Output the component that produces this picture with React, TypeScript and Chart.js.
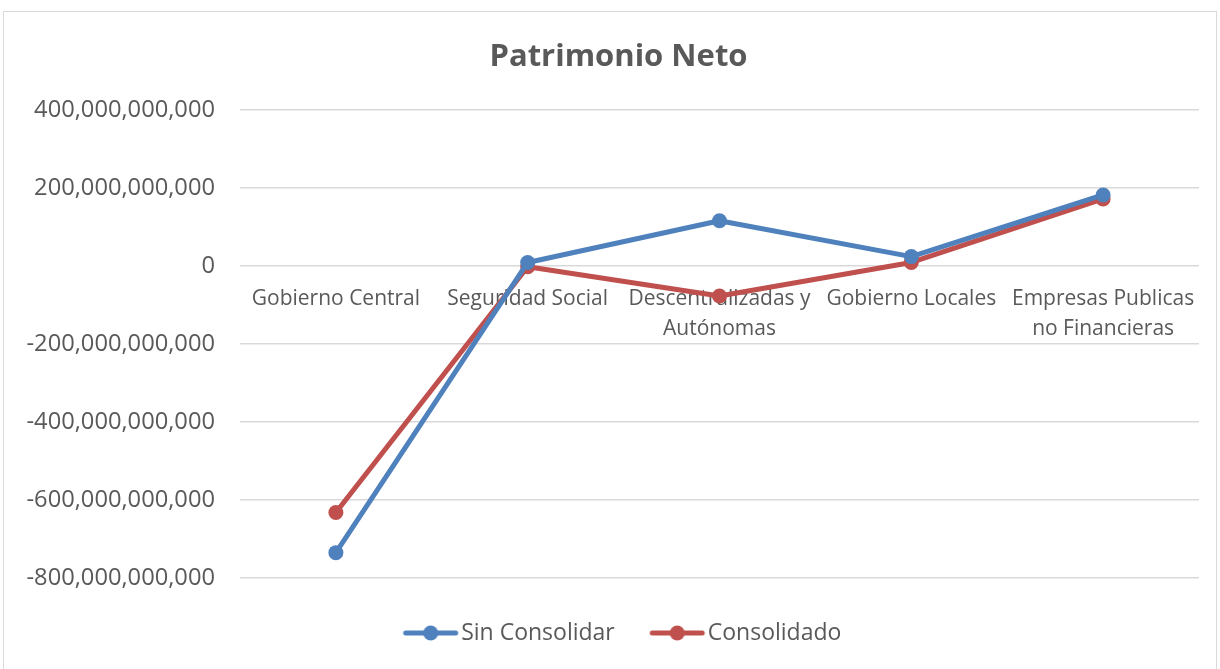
import React, { useEffect, useRef } from 'react';
import { Chart, registerables } from 'chart.js';

Chart.register(...registerables);

const categories: (string | string[])[] = [
  'Gobierno Central',
  'Seguridad Social',
  ['Descentralizadas y', 'Autónomas'],
  'Gobierno Locales',
  ['Empresas Publicas', 'no Financieras'],
];
const sinConsolidar = [-735e9, 9e9, 116e9, 24e9, 182e9];
const consolidado = [-632e9, -2e9, -77e9, 9e9, 172e9];
const seriesNames = ['Sin Consolidar', 'Consolidado'];
const seriesColors = ['#4f81bd', '#c0504d'];
const yMin = -800e9;
const yMax = 400e9;
const yStep = 200e9;
const titleText = 'Patrimonio Neto';

const FONT = "'Open Sans', 'Noto Sans', sans-serif";
const TEXT = '#595959';

function makeLegendIcon(color: string) {
  const c = document.createElement('canvas');
  c.width = 58;
  c.height = 18;
  const ctx = c.getContext('2d')!;
  ctx.strokeStyle = color;
  ctx.lineWidth = 5;
  ctx.lineCap = 'round';
  ctx.beginPath();
  ctx.moveTo(4, 9);
  ctx.lineTo(54, 9);
  ctx.stroke();
  ctx.fillStyle = color;
  ctx.beginPath();
  ctx.arc(29, 9, 7.5, 0, Math.PI * 2);
  ctx.fill();
  return c;
}

const legendShift = {
  id: 'legendShift',
  afterLayout(chart: any) {
    if (chart.legend) {
      chart.legend.left += 8;
      chart.legend.right += 8;
    }
  },
};

export default function App() {
  const ref = useRef<HTMLCanvasElement | null>(null);
  useEffect(() => {
    if (!ref.current) return;
    const icons = seriesColors.map(makeLegendIcon);
    const ds = (i: number, data: number[]) => ({
      label: seriesNames[i],
      data,
      borderColor: seriesColors[i],
      backgroundColor: seriesColors[i],
      borderWidth: 5,
      pointRadius: 7.5,
      pointBorderWidth: 0,
      pointHoverRadius: 7.5,
      tension: 0,
      borderCapStyle: 'round' as const,
      borderJoinStyle: 'round' as const,
      yAxisID: 'y',
    });
    const chart = new Chart(ref.current, {
      type: 'line',
      data: {
        labels: categories,
        datasets: [ds(0, sinConsolidar), ds(1, consolidado)],
      },
      plugins: [legendShift],
      options: {
        responsive: false,
        animation: false,
        layout: { padding: { left: 0, right: 0, top: 0, bottom: 25.5 } },
        plugins: {
          title: {
            display: true,
            text: titleText,
            color: TEXT,
            font: { family: FONT, size: 31, weight: 'bold', lineHeight: 1.16 },
            padding: { top: 27, bottom: 35 },
          },
          legend: {
            position: 'bottom',
            labels: {
              usePointStyle: true,
              pointStyleWidth: 38,
              color: TEXT,
              padding: 43.5,
              font: { family: FONT, size: 23 },
              generateLabels: (ch: any) =>
                ch.data.datasets.map((d: any, i: number) => ({
                  text: d.label,
                  fillStyle: d.borderColor,
                  strokeStyle: d.borderColor,
                  lineWidth: 0,
                  pointStyle: icons[i],
                  datasetIndex: i,
                  hidden: false,
                  fontColor: TEXT,
                })),
            },
          },
          tooltip: { enabled: false },
        },
        scales: {
          x: {
            position: { y: 0 } as any,
            offset: true,
            grid: { display: false, drawTicks: false },
            border: { display: false },
            ticks: {
              color: TEXT,
              font: { family: FONT, size: 21, lineHeight: 1.42 },
              padding: 18,
              maxRotation: 0,
              autoSkip: false,
            },
            afterFit: (s: any) => {
              s.height = 0;
            },
          },
          y: {
            min: yMin,
            max: yMax,
            grid: { color: '#d9d9d9', lineWidth: 1.5, drawTicks: false },
            border: { display: false },
            ticks: {
              stepSize: yStep,
              color: TEXT,
              font: { family: FONT, size: 23.7 },
              padding: 25,
              callback: (v: any) => Number(v).toLocaleString('en-US'),
            },
            afterFit: (s: any) => {
              s.width = 236;
            },
          },
          y2: {
            position: 'right',
            display: true,
            grid: { display: false, drawTicks: false },
            border: { display: false },
            ticks: { display: false },
            afterFit: (s: any) => {
              s.width = 34;
            },
          },
        },
      },
    });
    return () => chart.destroy();
  }, []);
  return (
    <div
      style={{
        position: 'fixed',
        left: 3,
        top: 11,
        width: 1214,
        height: 670,
        border: '1px solid #d9d9d9',
        boxSizing: 'border-box',
        background: '#fff',
        overflow: 'hidden',
      }}
    >
      <canvas ref={ref} width={1229} height={668} style={{ display: 'block' }} />
    </div>
  );
}
